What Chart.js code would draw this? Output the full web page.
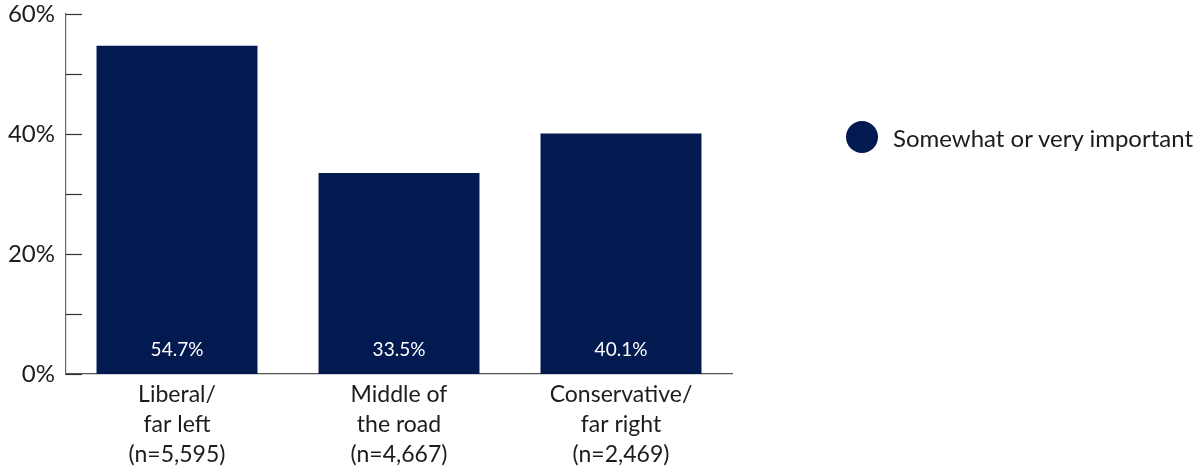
<!DOCTYPE html>
<html>
<head>
<meta charset="utf-8">
<script src="https://cdn.jsdelivr.net/npm/chart.js@4"></script>
<style>
  body { margin: 0; background: #fff; }
  #wrap { position: relative; width: 1201px; height: 468px; }
  #legend { position: absolute; left: 846px; top: 121px; display: flex; align-items: center;
            font-family: Lato, sans-serif; font-size: 24px; color: #1c1c1c; white-space: nowrap; }
  #legend span.dot { display: inline-block; width: 32px; height: 32px; border-radius: 50%;
                     background: #021a4f; margin-right: 15px; }
</style>
</head>
<body>
<div id="wrap">
  <canvas id="myChart" width="1201" height="468"></canvas>
  <div id="legend"><span class="dot"></span><span>Somewhat or very important</span></div>
</div>
<script>
var categories = [
    ['Liberal/', 'far left', '(n=5,595)'],
    ['Middle of', 'the road', '(n=4,667)'],
    ['Conservative/', 'far right', '(n=2,469)']
];
var values = [54.7, 33.5, 40.1];
var seriesName = 'Somewhat or very important';
var tickValues = [0, 10, 20, 30, 40, 50, 60];

var barColor = '#021a4f';

// short inward ticks on the y axis + value labels at the foot of each bar
var extras = {
    id: 'extras',
    afterDatasetsDraw: function(chart) {
        var c = chart.ctx;
        var y = chart.scales.y;
        var left = chart.chartArea.left;
        c.save();
        c.strokeStyle = '#333';
        c.lineWidth = 1.2;
        tickValues.forEach(function(v) {
            var py = Math.round(y.getPixelForValue(v)) + 0.5;
            c.beginPath();
            c.moveTo(left, py);
            c.lineTo(left + 16, py);
            c.stroke();
        });
        c.fillStyle = '#ffffff';
        c.font = '19px Lato, sans-serif';
        c.textAlign = 'center';
        c.textBaseline = 'middle';
        chart.getDatasetMeta(0).data.forEach(function(bar, i) {
            c.fillText(values[i].toFixed(1) + '%', bar.x, y.getPixelForValue(0) - 24);
        });
        c.restore();
    }
};

var ctx = document.getElementById('myChart').getContext('2d');
var myChart = new Chart(ctx, {
    type: 'bar',
    data: {
        labels: categories,
        datasets: [{
            label: seriesName,
            data: values,
            backgroundColor: barColor,
            categoryPercentage: 1,
            barPercentage: 0.725
        }]
    },
    options: {
        responsive: false,
        animation: false,
        layout: { padding: { left: 0, top: 14, right: 469, bottom: 0 } },
        plugins: {
            legend: { display: false },
            tooltip: { enabled: false }
        },
        scales: {
            x: {
                grid: { display: false },
                border: { display: true, color: '#555', width: 1.2 },
                ticks: {
                    color: '#1c1c1c',
                    font: { family: 'Lato, sans-serif', size: 23, lineHeight: 1.3 },
                    padding: -2,
                    maxRotation: 0
                },
                afterFit: function(scale) {
                    scale.height = 94;
                    scale.paddingLeft = 0;
                    scale.paddingRight = 0;
                }
            },
            y: {
                min: 0,
                max: 60,
                grid: { display: false },
                border: { display: true, color: '#666', width: 1.2 },
                ticks: {
                    stepSize: 10,
                    color: '#1c1c1c',
                    font: { family: 'Lato, sans-serif', size: 24 },
                    padding: 3,
                    callback: function(v) { return v % 20 === 0 ? v + '%' : ''; }
                },
                afterFit: function(scale) {
                    scale.width = 66;
                    scale.paddingTop = 0;
                    scale.paddingBottom = 0;
                }
            }
        }
    },
    plugins: [extras]
});
</script>
</body>
</html>
